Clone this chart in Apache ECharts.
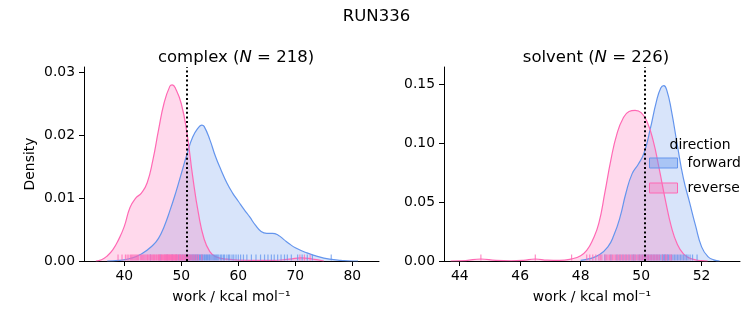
<!DOCTYPE html>
<html>
<head>
<meta charset="utf-8">
<script src="https://cdn.jsdelivr.net/npm/echarts@6/dist/echarts.min.js"></script>
<style>
  html, body { margin: 0; padding: 0; background: #fff; }
  #main { width: 753px; height: 325px; }
</style>
</head>
<body>
<div id="main"></div>
<script>
// complex leg KDE curves
const cxFwd = [37, 39, 41, 43, 45, 46, 47, 48, 49, 50, 51, 52, 53, 53.6, 54, 55, 56, 57, 58, 59, 60, 61, 62, 63, 64, 65, 66, 67, 68, 69, 70, 72, 74, 76, 78, 80, 81];
const cyFwd = [0, 0.0001, 0.0004, 0.0011, 0.0025, 0.0036, 0.0055, 0.0080, 0.0108, 0.0139, 0.0170, 0.0197, 0.0212, 0.0216, 0.0214, 0.0193, 0.0166, 0.0144, 0.0124, 0.0108, 0.0095, 0.0082, 0.0070, 0.0057, 0.0047, 0.0044, 0.0044, 0.0041, 0.0034, 0.0027, 0.0021, 0.0013, 0.0007, 0.0003, 0.0001, 0, 0];
const cxRev = [35, 36, 37, 38, 39, 40, 41, 42, 43, 44, 45, 46, 47, 48, 48.4, 49, 50, 51, 52, 53, 54, 55, 56, 58, 62, 66, 69, 71, 73, 75];
const cyRev = [0, 0.0002, 0.0008, 0.0018, 0.0034, 0.0055, 0.0085, 0.0100, 0.0108, 0.0124, 0.0160, 0.0208, 0.0252, 0.0278, 0.0280, 0.0274, 0.0250, 0.0203, 0.0134, 0.0076, 0.0035, 0.0015, 0.0007, 0.0003, 0.0001, 0.0001, 0.0003, 0.0005, 0.0003, 0];

// solvent leg KDE curves
const sxFwd = [48.0, 48.3, 48.6, 48.9, 49.1, 49.3, 49.5, 49.7, 49.9, 50.1, 50.3, 50.5, 50.65, 50.75, 50.85, 51.0, 51.2, 51.4, 51.6, 51.8, 52.0, 52.2, 52.4, 52.6];
const syFwd = [0.0005, 0.002, 0.005, 0.012, 0.022, 0.037, 0.058, 0.074, 0.082, 0.092, 0.112, 0.135, 0.147, 0.149, 0.145, 0.128, 0.098, 0.070, 0.050, 0.030, 0.012, 0.004, 0.001, 0];
const sxRev = [43.7, 44.2, 44.7, 45.2, 45.7, 46.1, 46.5, 46.9, 47.3, 47.7, 48.0, 48.2, 48.4, 48.6, 48.8, 49.0, 49.2, 49.4, 49.6, 49.8, 50.0, 50.2, 50.4, 50.6, 50.8, 51.0, 51.2, 51.4, 51.6, 51.8, 52.0, 52.2];
const syRev = [0, 0.0004, 0.0017, 0.0005, 0.0002, 0.0006, 0.0017, 0.0007, 0.0005, 0.0018, 0.0045, 0.009, 0.018, 0.032, 0.058, 0.086, 0.108, 0.121, 0.127, 0.128, 0.126, 0.118, 0.102, 0.078, 0.052, 0.029, 0.014, 0.006, 0.0025, 0.001, 0.0003, 0];

// rug samples (estimated)
const cRugFwd = [44.6, 46.3, 47.5, 48.4, 49.1, 49.5, 49.8, 50.1, 50.3, 50.6, 50.8, 51.0, 51.2, 51.4, 51.6, 51.8, 52.0, 52.1, 52.3, 52.5, 52.6, 52.8, 52.9, 53.1, 53.2, 53.4, 53.5, 53.7, 53.8, 54.0, 54.1, 54.3, 54.4, 54.6, 54.7, 54.9, 55.0, 55.2, 55.4, 55.6, 55.8, 56.0, 56.2, 56.4, 56.6, 56.9, 57.1, 57.4, 57.6, 58.0, 58.3, 58.5, 58.9, 59.2, 59.6, 60.0, 60.4, 60.9, 61.5, 62.3, 63.1, 63.9, 64.6, 65.2, 65.8, 66.3, 66.9, 67.5, 68.1, 68.6, 69.3, 70.4, 71.2, 72.1, 73.0, 76.3];
const cRugRev = [38.9, 39.6, 40.2, 40.5, 40.8, 41.1, 41.3, 41.5, 41.7, 41.9, 42.1, 42.3, 42.5, 42.8, 43.0, 43.2, 43.4, 43.6, 43.8, 44.0, 44.1, 44.3, 44.5, 44.6, 44.8, 45.0, 45.1, 45.3, 45.4, 45.6, 45.7, 45.9, 46.0, 46.1, 46.2, 46.4, 46.5, 46.6, 46.7, 46.9, 47.0, 47.1, 47.2, 47.3, 47.4, 47.5, 47.6, 47.7, 47.8, 47.9, 48.0, 48.1, 48.2, 48.3, 48.4, 48.5, 48.6, 48.7, 48.8, 48.9, 49.0, 49.1, 49.2, 49.3, 49.4, 49.6, 49.7, 49.8, 49.9, 50.1, 50.2, 50.4, 50.5, 50.7, 50.8, 51.0, 51.1, 51.3, 51.5, 51.7, 51.9, 52.2, 52.4, 52.7, 53.0, 53.6, 70.8, 71.6, 72.6];
const sRugFwd = [48.8, 49.0, 49.2, 49.3, 49.4, 49.5, 49.6, 49.7, 49.75, 49.8, 49.9, 49.95, 50.0, 50.05, 50.1, 50.15, 50.2, 50.25, 50.3, 50.35, 50.4, 50.45, 50.5, 50.55, 50.6, 50.65, 50.7, 50.72, 50.75, 50.78, 50.8, 50.85, 50.88, 50.9, 50.95, 51.0, 51.05, 51.1, 51.15, 51.2, 51.25, 51.3, 51.35, 51.4, 51.45, 51.5, 51.55, 51.62, 51.7, 51.85];
const sRugRev = [44.7, 46.5, 47.7, 48.2, 48.3, 48.4, 48.5, 48.6, 48.65, 48.7, 48.8, 48.85, 48.9, 48.95, 49.0, 49.05, 49.1, 49.15, 49.2, 49.25, 49.3, 49.35, 49.4, 49.45, 49.5, 49.55, 49.6, 49.65, 49.7, 49.75, 49.8, 49.85, 49.9, 49.95, 50.0, 50.05, 50.1, 50.15, 50.2, 50.25, 50.3, 50.35, 50.4, 50.45, 50.5, 50.55, 50.6, 50.7, 50.8, 50.85, 50.95, 51.0];

// mean work (dotted lines)
const cMean = 50.93;
const sMean = 50.12;

const cTicks = [40, 50, 60, 70, 80];
const sTicks = [44, 46, 48, 50, 52];
const cYTicks = [0, 0.01, 0.02, 0.03];
const sYTicks = [0, 0.05, 0.10, 0.15];

const BLUE = '#6495ED';
const PINK = '#FF69B4';
const FONT = 'DejaVu Sans';

const pairs = (xs, ys) => xs.map((x, i) => [x, ys[i]]);
const rug = (xs) => xs.map(x => [x, 0]);

function xAx(idx, min, max, ticks) {
  return {
    type: 'value', gridIndex: idx, min: min, max: max,
    name: 'work / kcal mol\u207B\u00B9', nameLocation: 'middle', nameGap: 29,
    nameTextStyle: { fontFamily: FONT, fontSize: 13.9, color: '#000' },
    axisLine: { lineStyle: { color: '#000', width: 1 } },
    axisTick: { length: 5, lineStyle: { color: '#000' }, customValues: ticks },
    axisLabel: { customValues: ticks, margin: 8, fontFamily: FONT, fontSize: 13.9, color: '#000' },
    splitLine: { show: false }
  };
}
function yAx(idx, max, ticks, name) {
  return {
    type: 'value', gridIndex: idx, min: 0, max: max,
    name: name, nameLocation: 'middle', nameGap: 47,
    nameTextStyle: { fontFamily: FONT, fontSize: 13.9, color: '#000' },
    axisLine: { show: true, lineStyle: { color: '#000', width: 1 } },
    axisTick: { show: true, length: 5, lineStyle: { color: '#000' }, customValues: ticks },
    axisLabel: { customValues: ticks, margin: 9, fontFamily: FONT, fontSize: 13.9, color: '#000',
      formatter: v => v.toFixed(2) },
    splitLine: { show: false }
  };
}
function kde(name, idx, data, color, fill) {
  return {
    name: name, type: 'line', xAxisIndex: idx, yAxisIndex: idx,
    data: data, smooth: 0.5, showSymbol: false, symbol: 'none',
    lineStyle: { color: color, width: 1.2 },
    itemStyle: { color: color },
    areaStyle: { color: fill, opacity: 1 },
    z: 2
  };
}
function rugSeries(name, idx, data, color) {
  return {
    name: name, type: 'scatter', xAxisIndex: idx, yAxisIndex: idx,
    data: data, symbol: 'rect', symbolSize: [1.2, 6], symbolOffset: [0, -3.5],
    itemStyle: { color: color, opacity: 0.75 }, silent: true, z: 3
  };
}
function meanLine(idx, x) {
  return {
    type: 'line', xAxisIndex: idx, yAxisIndex: idx, data: [], silent: true,
    markLine: {
      symbol: ['none', 'none'], silent: true, label: { show: false },
      lineStyle: { color: '#000', type: [2, 2.6], width: 2 },
      data: [{ xAxis: x }]
    }, z: 4
  };
}

const chart = echarts.init(document.getElementById('main'));
chart.setOption({
  animation: false,
  backgroundColor: '#fff',
  title: [
    { text: 'RUN336', left: 'center', top: 3,
      textStyle: { fontFamily: FONT, fontSize: 16.5, fontWeight: 'normal', color: '#000' } },
    { text: 'complex ({i|N} = 218)', left: 231, top: 44, textAlign: 'center',
      textStyle: { fontFamily: FONT, fontSize: 16.5, fontWeight: 'normal', color: '#000',
        rich: { i: { fontFamily: FONT, fontSize: 16.5, fontStyle: 'italic', color: '#000' } } } },
    { text: 'solvent ({i|N} = 226)', left: 591, top: 44, textAlign: 'center',
      textStyle: { fontFamily: FONT, fontSize: 16.5, fontWeight: 'normal', color: '#000',
        rich: { i: { fontFamily: FONT, fontSize: 16.5, fontStyle: 'italic', color: '#000' } } } },
    { text: 'direction', left: 695, top: 133, textAlign: 'center',
      textStyle: { fontFamily: FONT, fontSize: 13.9, fontWeight: 'normal', color: '#000' } }
  ],
  legend: {
    left: 649, top: 156, orient: 'vertical', padding: 0,
    itemWidth: 28, itemHeight: 10, itemGap: 11, icon: 'rect',
    textStyle: { fontFamily: FONT, fontSize: 13.9, color: '#000', padding: [0, 0, 0, 5] },
    data: [
      { name: 'forward', itemStyle: { color: 'rgba(100,149,237,0.4)', borderColor: BLUE, borderWidth: 1 } },
      { name: 'reverse', itemStyle: { color: 'rgba(255,105,180,0.3)', borderColor: PINK, borderWidth: 1 } }
    ]
  },
  grid: [
    { left: 84, top: 67, width: 295, height: 194 },
    { left: 444, top: 67, width: 296, height: 194 }
  ],
  xAxis: [xAx(0, 32.93, 84.68, cTicks), xAx(1, 43.48, 53.27, sTicks)],
  yAxis: [yAx(0, 0.03084, cYTicks, 'Density'), yAx(1, 0.1648, sYTicks, '')],
  series: [
    kde('forward', 0, pairs(cxFwd, cyFwd), BLUE, 'rgba(100,149,237,0.25)'),
    kde('reverse', 0, pairs(cxRev, cyRev), PINK, 'rgba(255,105,180,0.25)'),
    rugSeries('forward', 0, rug(cRugFwd), BLUE),
    rugSeries('reverse', 0, rug(cRugRev), PINK),
    meanLine(0, cMean),
    kde('forward', 1, pairs(sxFwd, syFwd), BLUE, 'rgba(100,149,237,0.25)'),
    kde('reverse', 1, pairs(sxRev, syRev), PINK, 'rgba(255,105,180,0.25)'),
    rugSeries('forward', 1, rug(sRugFwd), BLUE),
    rugSeries('reverse', 1, rug(sRugRev), PINK),
    meanLine(1, sMean)
  ]
});
</script>
</body>
</html>
